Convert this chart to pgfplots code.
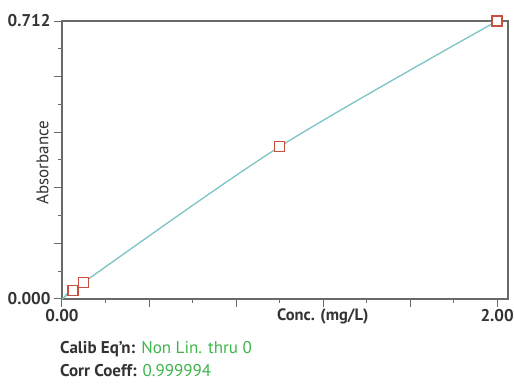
\documentclass[border=0pt]{standalone}
\usepackage{pgfplots}
\pgfplotsset{compat=1.18}
\usepackage{fontspec}
\setmainfont{PT Sans}
\definecolor{linec}{HTML}{7CC4C4}
\definecolor{markc}{HTML}{C8503C}
\definecolor{greenc}{HTML}{3DB54A}
\definecolor{axc}{HTML}{6A6A6A}
\definecolor{txt}{HTML}{333333}
\begin{document}
\begin{tikzpicture}[x=1pt,y=1pt]
\begin{axis}[at={(0,0)}, anchor=south west, scale only axis,
  width=446pt, height=278pt,
  xmin=0, xmax=2.05, ymin=0, ymax=0.712,
  clip=false,
  axis line style={axc, line width=1.3pt},
  xtick={0,0.4,0.8,1.2,1.6,2.0},
  minor xtick={0.2,0.6,1.0,1.4,1.8},
  xticklabels={0.00,,,,,2.00},
  ytick={0,0.1424,0.2848,0.4272,0.5696,0.712},
  minor ytick={0.0712,0.2136,0.356,0.4984,0.6408},
  yticklabels={0.000,,,,,0.712},
  tick align=outside, tick pos=left,
  major tick length=8pt, minor tick length=4pt,
  tick style={axc, line width=1pt},
  every tick/.style={axc, line width=1pt},
  /pgf/number format/assume math mode=true,
  ticklabel style={font=\fontsize{17}{20}\selectfont\bfseries, text=txt},
  xticklabel style={yshift=1pt},
  xlabel={Conc. (mg/L)},
  xlabel style={at={(axis description cs:0.585,0)}, anchor=north, yshift=-6pt,
    font=\fontsize{16.5}{19}\selectfont\bfseries, text=txt},
  ylabel={Absorbance},
  ylabel style={at={(axis description cs:-0.022,0.49)}, anchor=south,
    font=\fontsize{17}{20}\selectfont, text=txt},
]
\addplot[linec, line width=1.3pt, smooth] coordinates {(0,0) (0.05,0.0225) (0.1,0.043) (1.0,0.39) (2.0,0.712)};
\addplot[only marks, mark=square*, mark size=5pt, mark options={draw=markc, fill=white, line width=1.4pt}] coordinates {(0.05,0.0225) (0.1,0.043) (1.0,0.39) (2.0,0.712)};
\end{axis}
\node[anchor=base west, inner sep=0, font=\fontsize{17}{20}\selectfont] at (-2,-55) {\textcolor{txt}{\bfseries Calib Eq'n:} \textcolor{greenc}{Non Lin. thru 0}};
\node[anchor=base west, inner sep=0, font=\fontsize{17}{20}\selectfont] at (-2,-78) {\textcolor{txt}{\bfseries Corr Coeff:} \textcolor{greenc}{0.999994}};
\pgfresetboundingbox
\path (-62,-86) rectangle (452,299);
\end{tikzpicture}
\end{document}
